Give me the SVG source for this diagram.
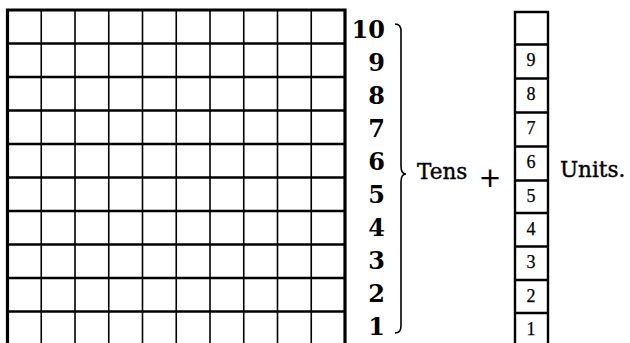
<svg xmlns="http://www.w3.org/2000/svg" width="630" height="343" viewBox="0 0 630 343">
<style>
.h{stroke:#000;stroke-width:2.4;fill:none}
.v{stroke:#000;stroke-width:1.6;fill:none}
.o{stroke:#000;stroke-width:3.2;fill:none}
.num{font-family:"DejaVu Serif",serif;font-weight:bold;font-size:24px;text-anchor:end;fill:#000}
.lab{font-family:"DejaVu Serif",serif;font-size:21.5px;fill:#000;stroke:#000;stroke-width:0.4}
.ud{font-family:"Liberation Serif",serif;font-size:18px;text-anchor:middle;fill:#000;stroke:#000;stroke-width:0.25}
</style>
<rect width="630" height="343" fill="#fff"/>
<g id="tens-grid">
<g class="v">
<line x1="41.25" y1="10" x2="41.25" y2="343"/><line x1="75" y1="10" x2="75" y2="343"/><line x1="108.75" y1="10" x2="108.75" y2="343"/><line x1="142.5" y1="10" x2="142.5" y2="343"/><line x1="176.25" y1="10" x2="176.25" y2="343"/><line x1="210" y1="10" x2="210" y2="343"/><line x1="243.75" y1="10" x2="243.75" y2="343"/><line x1="277.5" y1="10" x2="277.5" y2="343"/><line x1="311.25" y1="10" x2="311.25" y2="343"/>
</g>
<g class="h">
<line x1="7.5" y1="43.5" x2="345" y2="43.5"/><line x1="7.5" y1="77" x2="345" y2="77"/><line x1="7.5" y1="110.5" x2="345" y2="110.5"/><line x1="7.5" y1="144" x2="345" y2="144"/><line x1="7.5" y1="177.5" x2="345" y2="177.5"/><line x1="7.5" y1="211" x2="345" y2="211"/><line x1="7.5" y1="244.5" x2="345" y2="244.5"/><line x1="7.5" y1="278" x2="345" y2="278"/><line x1="7.5" y1="311.5" x2="345" y2="311.5"/>
</g>
<path class="o" d="M7.5,345 V10 H345 V345"/>
</g>
<g id="tens-numbers">
<text class="num" x="385" y="38">10</text>
<text class="num" x="385" y="71">9</text>
<text class="num" x="385" y="104">8</text>
<text class="num" x="385" y="137">7</text>
<text class="num" x="385" y="170">6</text>
<text class="num" x="385" y="203">5</text>
<text class="num" x="385" y="236">4</text>
<text class="num" x="385" y="269">3</text>
<text class="num" x="385" y="302">2</text>
<text class="num" x="385" y="335">1</text>
</g>
<g id="brace">
<path d="M395,24 Q401,24 401,31 V166 Q401,174 406,174 Q401,174 401,182 V326 Q401,333 395,333" fill="none" stroke="#000" stroke-width="1.6"/>
</g>
<g id="tens-label"><text class="lab" x="417" y="179">Tens</text></g>
<g id="plus"><text class="lab" x="490" y="187" style="text-anchor:middle;font-size:27px;stroke-width:0.2">+</text></g>
<g id="units-column">
<g class="h">
<line x1="515" y1="44.5" x2="548" y2="44.5"/><line x1="515" y1="78.5" x2="548" y2="78.5"/><line x1="515" y1="112.5" x2="548" y2="112.5"/><line x1="515" y1="146.5" x2="548" y2="146.5"/><line x1="515" y1="180.5" x2="548" y2="180.5"/><line x1="515" y1="213" x2="548" y2="213"/><line x1="515" y1="246.5" x2="548" y2="246.5"/><line x1="515" y1="280" x2="548" y2="280"/><line x1="515" y1="313" x2="548" y2="313"/>
</g>
<path class="o" style="stroke-width:2.4" d="M515,345 V12 H548 V345"/>
<text class="ud" x="531" y="66">9</text>
<text class="ud" x="531" y="100">8</text>
<text class="ud" x="531" y="134">7</text>
<text class="ud" x="531" y="168">6</text>
<text class="ud" x="531" y="202">5</text>
<text class="ud" x="531" y="234.5">4</text>
<text class="ud" x="531" y="268">3</text>
<text class="ud" x="531" y="301.5">2</text>
<text class="ud" x="531" y="334.5">1</text>
</g>
<g id="units-label"><text class="lab" x="560" y="177">Units.</text></g>
</svg>
